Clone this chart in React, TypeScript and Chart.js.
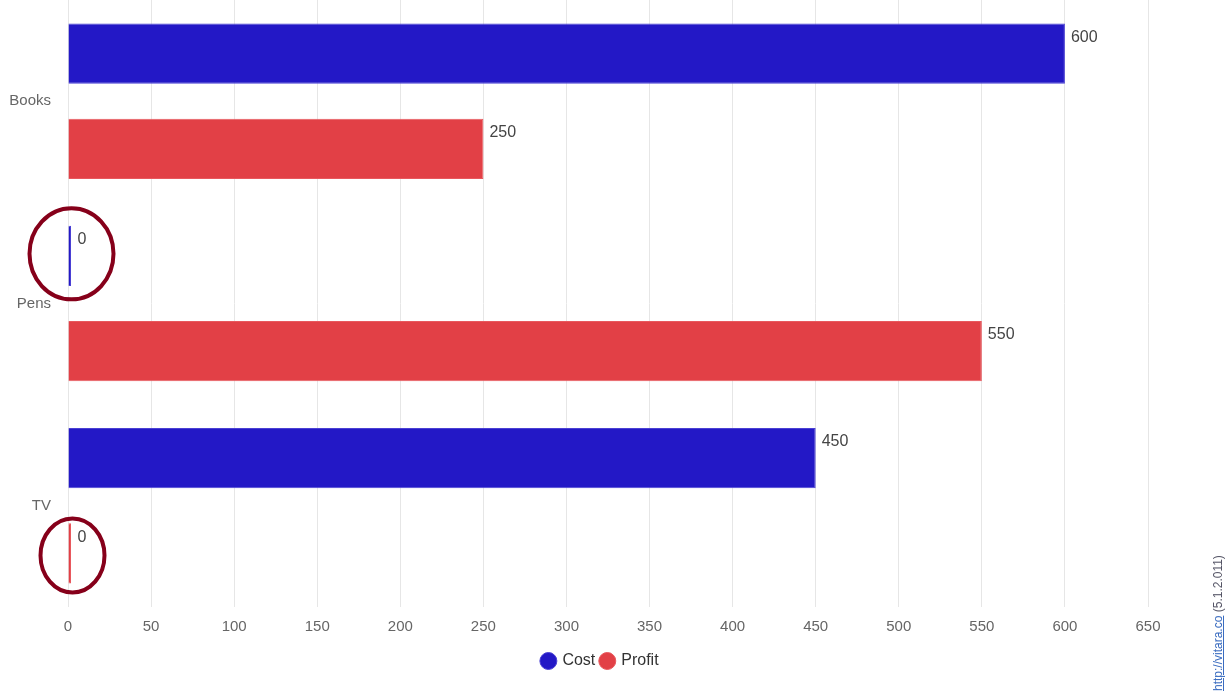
import React, { useEffect, useRef } from "react";
import { Chart, registerables } from "chart.js";

Chart.register(...registerables);

const categories = ["Books", "Pens", "TV"];
const costValues = [600, 0, 450];
const profitValues = [250, 550, 0];
const seriesNames = ["Cost", "Profit"];
const xTickMin = 0;
const xTickMax = 650;
const xTickStep = 50;

const FONT = "'Liberation Sans', Arial, Helvetica, sans-serif";

const valueLabelPlugin = {
  id: "valueLabels",
  afterDatasetsDraw(chart: any) {
    const ctx = chart.ctx;
    ctx.save();
    ctx.font = `16px ${FONT}`;
    ctx.fillStyle = "#444";
    ctx.textAlign = "left";
    ctx.textBaseline = "middle";
    chart.data.datasets.forEach((ds: any, di: number) => {
      const meta = chart.getDatasetMeta(di);
      meta.data.forEach((el: any, i: number) => {
        const v = ds.data[i];
        const right = Math.max(el.x, el.base + 3);
        const top = el.y - el.height / 2;
        ctx.fillText(String(v), right + 6, top + 14);
      });
    });
    ctx.restore();
  },
};

// highlight rings around zero-valued bars
const zeroRingPlugin = {
  id: "zeroRings",
  afterDraw(chart: any) {
    const ctx = chart.ctx;
    const rings = [
      { ds: 0, idx: 1, rx: 42, ry: 45.5, dx: 2, dy: -2 },
      { ds: 1, idx: 2, rx: 32, ry: 37, dx: 3, dy: 2 },
    ];
    ctx.save();
    ctx.strokeStyle = "#86001a";
    ctx.lineWidth = 4;
    rings.forEach((r) => {
      const el = chart.getDatasetMeta(r.ds).data[r.idx];
      if (!el) return;
      const cx = el.base + 1 + r.dx;
      const cy = el.y + r.dy;
      ctx.beginPath();
      ctx.ellipse(cx, cy, r.rx, r.ry, 0, 0, Math.PI * 2);
      ctx.stroke();
    });
    ctx.restore();
  },
};

export default function App() {
  const canvasRef = useRef<HTMLCanvasElement | null>(null);

  useEffect(() => {
    if (!canvasRef.current) return;
    const chart = new Chart(canvasRef.current, {
      type: "bar",
      data: {
        labels: categories,
        datasets: [
          {
            label: seriesNames[0],
            data: costValues,
            backgroundColor: "#2318c6",
            borderColor: "#4a40d4",
            borderWidth: 1,
            minBarLength: 3,
            categoryPercentage: 0.942,
            barPercentage: 0.632,
          },
          {
            label: seriesNames[1],
            data: profitValues,
            backgroundColor: "#e24046",
            borderColor: "#e8585d",
            borderWidth: 1,
            minBarLength: 3,
            categoryPercentage: 0.942,
            barPercentage: 0.632,
          },
        ],
      },
      options: {
        indexAxis: "y",
        animation: false,
        responsive: false,
        maintainAspectRatio: false,
        layout: { padding: { top: 0, right: 24, left: 0, bottom: 14 } },
        scales: {
          x: {
            min: xTickMin,
            max: xTickMax,
            ticks: {
              stepSize: xTickStep,
              color: "#666",
              font: { family: FONT, size: 15 },
              padding: 11,
            },
            grid: { color: "#e6e6e6", drawTicks: false, lineWidth: 1 },
            border: { display: false },
            afterFit(scale: any) {
              scale.paddingRight = 77;
            },
          },
          y: {
            ticks: {
              color: "#666",
              font: { family: FONT, size: 15 },
              padding: 17,
            },
            grid: { display: false, drawTicks: false },
            border: { display: false },
            afterFit(scale: any) {
              scale.width = 68;
              scale.paddingTop = 0;
              scale.paddingBottom = 0;
            },
          },
        },
        plugins: {
          legend: {
            position: "bottom",
            labels: {
              usePointStyle: true,
              pointStyle: "circle",
              boxWidth: 12,
              boxHeight: 12,
              color: "#333",
              font: { family: FONT, size: 16 },
              padding: 6,
            },
          },
          tooltip: { enabled: false },
        },
      },
      plugins: [valueLabelPlugin, zeroRingPlugin],
    } as any);
    return () => chart.destroy();
  }, []);

  return (
    <div style={{ position: "absolute", left: 0, top: 0, width: 1225, height: 693, background: "#fff" }}>
      <canvas ref={canvasRef} width={1225} height={693} style={{ display: "block" }} />
      <div
        style={{
          position: "absolute",
          left: 1211,
          top: 691,
          transform: "rotate(-90deg)",
          transformOrigin: "0 0",
          whiteSpace: "nowrap",
          fontFamily: FONT,
          fontSize: 12,
          lineHeight: "14px",
        }}
      >
        <span style={{ color: "#3a6cc0", textDecoration: "underline" }}>http://vitara.co</span>
        <span style={{ color: "#556" }}> (5.1.2.011)</span>
      </div>
    </div>
  );
}
